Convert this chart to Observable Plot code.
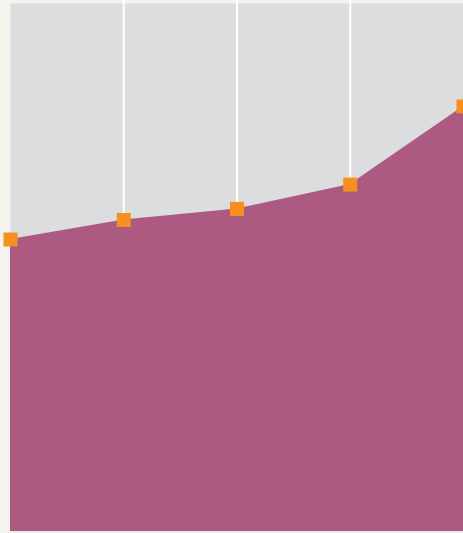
<!DOCTYPE html>
<html>
<head>
<meta charset="utf-8">
<script src="https://cdn.jsdelivr.net/npm/d3@7"></script>
<script src="https://cdn.jsdelivr.net/npm/@observablehq/plot@0.6"></script>
<style>
  html, body { margin: 0; padding: 0; background: #f4f3ee; }
  #chart svg { display: block; }
</style>
</head>
<body>
<div id="chart"></div>
<script>
const periods = [0, 1, 2, 3, 4];
const values = [55.3, 59.0, 61.1, 65.7, 80.5];
const gridTicks = [1, 2, 3];

const data = periods.map((p, i) => ({ period: p, value: values[i] }));

const chart = Plot.plot({
  width: 463,
  height: 533,
  marginLeft: 10,
  marginRight: 0,
  marginTop: 3,
  marginBottom: 2,
  style: { background: "#f4f3ee", overflow: "visible" },
  x: { domain: [0, 4], axis: null },
  y: { domain: [0, 100], axis: null },
  marks: [
    Plot.frame({ fill: "#dcdddf", stroke: null }),
    Plot.ruleX(gridTicks, { stroke: "#ffffff", strokeWidth: 2, insetTop: -3 }),
    Plot.areaY(data, { x: "period", y: "value", fill: "#ad5a82", curve: "linear" }),
    Plot.dot(data, { x: "period", y: "value", symbol: "square", r: 7.9, fill: "#f7901e", stroke: null })
  ]
});
document.getElementById("chart").appendChild(chart);
</script>
</body>
</html>
